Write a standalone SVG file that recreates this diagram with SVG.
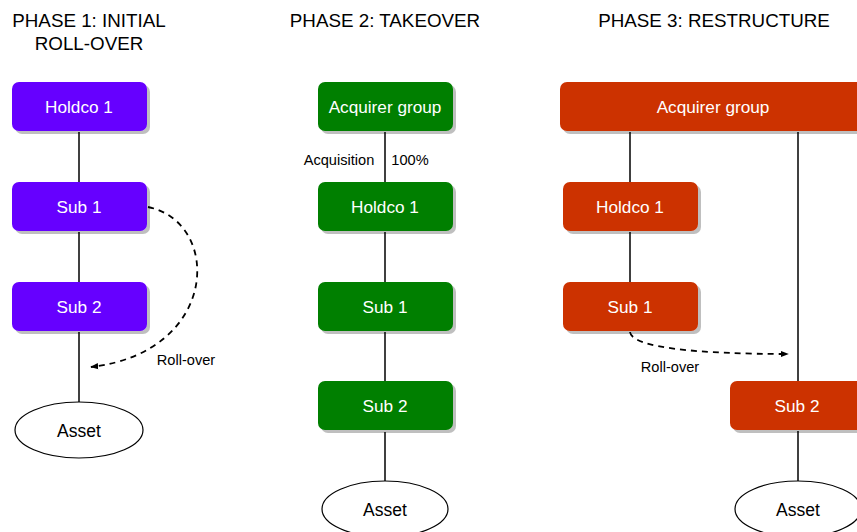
<svg xmlns="http://www.w3.org/2000/svg" width="857" height="532" viewBox="0 0 857 532">
<defs>
<filter id="sh" x="-10%" y="-10%" width="130%" height="140%">
<feOffset in="SourceAlpha" dx="3" dy="3" result="o"/>
<feFlood flood-color="#000" flood-opacity="0.25"/>
<feComposite in2="o" operator="in" result="s"/>
<feMerge><feMergeNode in="s"/><feMergeNode in="SourceGraphic"/></feMerge>
</filter>
<marker id="arr" viewBox="0 0 10 10" refX="9" refY="5" markerWidth="8" markerHeight="8" markerUnits="userSpaceOnUse" orient="auto">
<path d="M0,1 L10,5 L0,9 Z" fill="#000"/>
</marker>
</defs>
<style>
text{font-family:"Liberation Sans",Arial,sans-serif;text-anchor:middle;}
.title{font-size:18.8px;fill:#000;}
.nt{font-size:17.2px;fill:#fff;}
.lbl{font-size:14.6px;fill:#000;}
.at{font-size:17.5px;fill:#000;}
.p1{fill:#6600FF;filter:url(#sh);}
.p2{fill:#007F00;filter:url(#sh);}
.p3{fill:#CC3300;filter:url(#sh);}
.ln{stroke:#000;stroke-width:1.5;fill:none;}
.dash{stroke:#000;stroke-width:1.8;fill:none;stroke-dasharray:6,5;}
.el{fill:#fff;stroke:#000;stroke-width:1.2;}
</style>
<rect width="857" height="532" fill="#fff"/>
<g id="titles">
<text class="title" x="89" y="27">PHASE 1: INITIAL</text>
<text class="title" x="89" y="50">ROLL-OVER</text>
<text class="title" x="385" y="27">PHASE 2: TAKEOVER</text>
<text class="title" x="714" y="27">PHASE 3: RESTRUCTURE</text>
</g>
<g id="connectors">
<line class="ln" x1="79" y1="132" x2="79" y2="182"/>
<line class="ln" x1="79" y1="232" x2="79" y2="282"/>
<line class="ln" x1="79" y1="332" x2="79" y2="402"/>
<path class="dash" d="M148,207 C222,222 220,352 91,367" marker-end="url(#arr)"/>
<text class="lbl" x="186" y="365">Roll-over</text>
<line class="ln" x1="385" y1="132" x2="385" y2="182"/>
<line class="ln" x1="385" y1="232" x2="385" y2="282"/>
<line class="ln" x1="385" y1="332" x2="385" y2="382"/>
<line class="ln" x1="385" y1="432" x2="385" y2="481"/>
<text class="lbl" x="339" y="165">Acquisition</text>
<text class="lbl" x="410" y="165">100%</text>
<line class="ln" x1="630" y1="132" x2="630" y2="182"/>
<line class="ln" x1="630" y1="232" x2="630" y2="282"/>
<line class="ln" x1="798" y1="132" x2="798" y2="381"/>
<line class="ln" x1="798" y1="431" x2="798" y2="481"/>
<path class="dash" d="M630,332 C632,348 700,354 788,354" marker-end="url(#arr)"/>
<text class="lbl" x="670" y="372">Roll-over</text>
</g>
<g id="p1-holdco1"><rect class="p1" x="12" y="82" width="135" height="49" rx="7"/><text class="nt" x="79" y="113">Holdco 1</text></g>
<g id="p1-sub1"><rect class="p1" x="12" y="182" width="135" height="49" rx="7"/><text class="nt" x="79" y="213">Sub 1</text></g>
<g id="p1-sub2"><rect class="p1" x="12" y="282" width="135" height="49" rx="7"/><text class="nt" x="79" y="313">Sub 2</text></g>
<g id="p1-asset"><ellipse class="el" cx="79" cy="430" rx="64" ry="28"/><text class="at" x="79" y="437">Asset</text></g>
<g id="p2-acquirer"><rect class="p2" x="318" y="82" width="135" height="49" rx="7"/><text class="nt" x="385" y="113">Acquirer group</text></g>
<g id="p2-holdco1"><rect class="p2" x="318" y="182" width="135" height="49" rx="7"/><text class="nt" x="385" y="213">Holdco 1</text></g>
<g id="p2-sub1"><rect class="p2" x="318" y="282" width="135" height="49" rx="7"/><text class="nt" x="385" y="313">Sub 1</text></g>
<g id="p2-sub2"><rect class="p2" x="318" y="381" width="135" height="49" rx="7"/><text class="nt" x="385" y="412">Sub 2</text></g>
<g id="p2-asset"><ellipse class="el" cx="385" cy="509" rx="63" ry="28"/><text class="at" x="385" y="516">Asset</text></g>
<g id="p3-acquirer"><rect class="p3" x="560" y="82" width="304" height="49" rx="7"/><text class="nt" x="713" y="113">Acquirer group</text></g>
<g id="p3-holdco1"><rect class="p3" x="563" y="182" width="135" height="49" rx="7"/><text class="nt" x="630" y="213">Holdco 1</text></g>
<g id="p3-sub1"><rect class="p3" x="563" y="282" width="135" height="49" rx="7"/><text class="nt" x="630" y="313">Sub 1</text></g>
<g id="p3-sub2"><rect class="p3" x="730" y="381" width="135" height="49" rx="7"/><text class="nt" x="797" y="412">Sub 2</text></g>
<g id="p3-asset"><ellipse class="el" cx="798" cy="509" rx="63" ry="28"/><text class="at" x="798" y="516">Asset</text></g>
</svg>
